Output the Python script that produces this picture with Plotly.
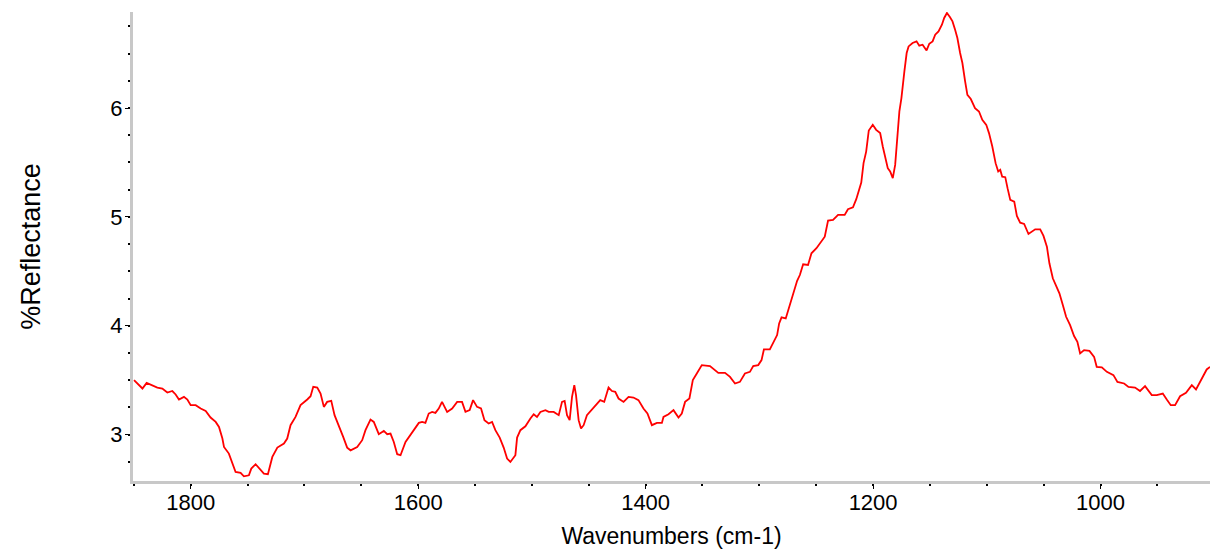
import plotly.graph_objects as go

wavenumber = [
    1849.8, 1842.4, 1838.7, 1833.6, 1829.3, 1824.9, 1820.5, 1816.1, 1813.2, 1810.3,
    1805.9, 1802.9, 1800.0, 1795.6, 1791.2, 1786.8, 1782.5, 1778.0, 1775.1, 1772.1,
    1770.7, 1766.4, 1763.4, 1760.5, 1756.1, 1753.2, 1748.8, 1746.7, 1742.9, 1740.0,
    1735.6, 1732.1, 1728.2, 1723.8, 1718.0, 1715.1, 1712.2, 1707.8, 1703.4, 1697.5,
    1694.6, 1692.2, 1688.7, 1685.8, 1682.9, 1680.0, 1676.4, 1673.5, 1669.8, 1665.9,
    1662.4, 1659.4, 1653.6, 1649.2, 1646.3, 1641.9, 1639.0, 1634.6, 1630.2, 1627.2,
    1624.3, 1621.4, 1618.4, 1615.5, 1611.1, 1606.7, 1603.8, 1599.4, 1596.5, 1593.6,
    1590.7, 1587.7, 1584.8, 1581.9, 1579.0, 1574.5, 1570.1, 1565.7, 1561.4, 1558.4,
    1554.7, 1551.7, 1548.2, 1544.7, 1541.7, 1538.0, 1535.0, 1532.1, 1528.3, 1524.8,
    1521.8, 1518.9, 1514.5, 1513.0, 1510.1, 1505.7, 1501.3, 1498.4, 1495.5, 1492.5,
    1488.1, 1485.2, 1480.8, 1476.4, 1473.5, 1471.2, 1469.1, 1466.8, 1464.7, 1462.7,
    1461.2, 1458.9, 1456.8, 1454.5, 1451.6, 1447.2, 1443.4, 1439.9, 1436.4, 1432.6,
    1429.6, 1426.7, 1423.8, 1419.4, 1415.0, 1410.7, 1406.3, 1401.9, 1398.4, 1394.5,
    1390.1, 1385.7, 1384.3, 1379.9, 1375.5, 1371.1, 1368.2, 1365.3, 1361.5, 1358.5,
    1355.0, 1350.6, 1343.4, 1339.0, 1336.1, 1330.2, 1325.8, 1321.4, 1317.1, 1312.7,
    1308.3, 1305.4, 1301.0, 1298.1, 1296.0, 1290.8, 1287.9, 1284.4, 1282.6, 1280.5,
    1276.8, 1274.7, 1271.8, 1268.9, 1266.8, 1264.4, 1261.5, 1257.2, 1254.2, 1249.8,
    1245.4, 1242.5, 1239.6, 1235.2, 1230.8, 1225.0, 1222.1, 1217.7, 1214.8, 1212.5,
    1210.4, 1208.4, 1206.1, 1203.8, 1200.3, 1197.3, 1193.8, 1191.5, 1189.2, 1187.1,
    1185.0, 1182.7, 1180.6, 1178.4, 1176.9, 1175.1, 1174.0, 1172.5, 1170.5, 1168.8,
    1165.3, 1161.8, 1159.4, 1156.5, 1153.0, 1150.6, 1147.7, 1145.4, 1142.5, 1139.5,
    1137.5, 1135.1, 1132.5, 1130.2, 1127.9, 1125.9, 1123.5, 1121.5, 1119.1, 1117.1,
    1114.1, 1110.4, 1106.9, 1104.0, 1100.5, 1098.1, 1095.2, 1092.3, 1090.0, 1088.2,
    1086.5, 1083.8, 1081.8, 1079.4, 1075.9, 1073.6, 1070.7, 1067.2, 1063.4, 1057.5,
    1053.1, 1050.2, 1047.2, 1045.0, 1042.0, 1039.1, 1036.2, 1033.2, 1030.3, 1026.8,
    1023.3, 1020.4, 1018.0, 1014.5, 1009.8, 1005.7, 1003.4, 998.9, 994.5, 988.7,
    985.2, 979.3, 975.5, 969.7, 965.3, 960.9, 955.0, 950.6, 945.3, 941.8,
    938.3, 934.5, 930.1, 924.9, 919.8, 916.1, 911.1, 906.7, 903.8,
]

reflectance = [
    3.500, 3.423, 3.475, 3.454, 3.432, 3.423, 3.386, 3.400, 3.368, 3.322,
    3.346, 3.322, 3.270, 3.270, 3.239, 3.217, 3.156, 3.116, 3.070, 2.963,
    2.886, 2.825, 2.748, 2.656, 2.647, 2.616, 2.625, 2.687, 2.727, 2.696,
    2.641, 2.635, 2.794, 2.880, 2.917, 2.963, 3.086, 3.162, 3.270, 3.322,
    3.352, 3.438, 3.432, 3.377, 3.254, 3.300, 3.309, 3.178, 3.086, 2.978,
    2.880, 2.855, 2.886, 2.948, 3.040, 3.138, 3.116, 3.003, 3.033, 3.003,
    3.009, 2.932, 2.819, 2.810, 2.932, 2.994, 3.046, 3.107, 3.116, 3.107,
    3.193, 3.208, 3.199, 3.239, 3.300, 3.208, 3.239, 3.300, 3.300, 3.208,
    3.224, 3.316, 3.254, 3.239, 3.132, 3.101, 3.116, 3.040, 2.972, 2.880,
    2.779, 2.748, 2.810, 2.972, 3.040, 3.076, 3.147, 3.187, 3.162, 3.208,
    3.224, 3.208, 3.208, 3.178, 3.300, 3.309, 3.178, 3.132, 3.346, 3.454,
    3.362, 3.132, 3.055, 3.086, 3.178, 3.230, 3.270, 3.316, 3.300, 3.432,
    3.400, 3.392, 3.331, 3.300, 3.346, 3.340, 3.316, 3.239, 3.193, 3.086,
    3.107, 3.107, 3.162, 3.187, 3.224, 3.156, 3.193, 3.300, 3.331, 3.500,
    3.561, 3.638, 3.629, 3.592, 3.567, 3.567, 3.530, 3.469, 3.484, 3.561,
    3.576, 3.629, 3.638, 3.684, 3.782, 3.782, 3.837, 3.914, 4.021, 4.077,
    4.067, 4.144, 4.236, 4.353, 4.413, 4.466, 4.564, 4.558, 4.666, 4.712,
    4.772, 4.818, 4.966, 4.972, 5.018, 5.018, 5.070, 5.089, 5.163, 5.248,
    5.315, 5.494, 5.600, 5.794, 5.846, 5.800, 5.770, 5.647, 5.540, 5.448,
    5.417, 5.356, 5.478, 5.739, 5.969, 6.092, 6.214, 6.337, 6.506, 6.567,
    6.598, 6.613, 6.573, 6.582, 6.530, 6.591, 6.613, 6.674, 6.705, 6.766,
    6.828, 6.874, 6.837, 6.797, 6.720, 6.644, 6.506, 6.414, 6.245, 6.122,
    6.083, 6.000, 5.969, 5.892, 5.846, 5.770, 5.647, 5.494, 5.417, 5.432,
    5.370, 5.365, 5.264, 5.156, 5.140, 5.009, 4.947, 4.935, 4.843, 4.886,
    4.886, 4.825, 4.726, 4.574, 4.436, 4.365, 4.298, 4.190, 4.082, 4.006,
    3.905, 3.852, 3.745, 3.776, 3.769, 3.714, 3.622, 3.617, 3.576, 3.546,
    3.484, 3.469, 3.438, 3.432, 3.400, 3.444, 3.362, 3.362, 3.377, 3.322,
    3.270, 3.270, 3.352, 3.383, 3.454, 3.414, 3.515, 3.598, 3.622,
]

x_tick_values = [1800, 1600, 1400, 1200, 1000]
x_tick_labels = ["1800", "1600", "1400", "1200", "1000"]
y_tick_values = [3, 4, 5, 6]
y_tick_labels = ["3", "4", "5", "6"]

FONT = "Liberation Sans, Arial, sans-serif"

fig = go.Figure()
fig.add_trace(go.Scatter(
    x=wavenumber, y=reflectance, mode="lines",
    line=dict(color="#ff0000", width=1.8),
    showlegend=False, hoverinfo="x+y",
))

fig.update_layout(
    width=1210, height=551,
    margin=dict(l=133, r=0, t=12, b=70),
    paper_bgcolor="white", plot_bgcolor="white",
    font=dict(family=FONT, size=22, color="#000000"),
)
fig.update_xaxes(
    range=[1850.7, 903.8], automargin=False,
    tickmode="array", tickvals=x_tick_values, ticktext=x_tick_labels,
    showgrid=False, zeroline=False,
    showline=True, linecolor="#c8c8c8", linewidth=3,
    ticks="outside", ticklen=5, tickwidth=1, tickcolor="#000000",
    minor=dict(ticks="outside", dtick=50, tick0=1000, ticklen=2, tickwidth=2, tickcolor="#000000", showgrid=False),
    tickfont=dict(size=22), ticklabelstandoff=-5,
    title=dict(text="Wavenumbers (cm-1)", font=dict(size=23), standoff=14),
)
fig.update_yaxes(
    range=[2.573, 6.883], automargin=False,
    tickmode="array", tickvals=y_tick_values, ticktext=y_tick_labels,
    showgrid=False, zeroline=False,
    showline=True, linecolor="#c8c8c8", linewidth=3,
    ticks="outside", ticklen=5, tickwidth=1, tickcolor="#000000",
    minor=dict(ticks="outside", dtick=0.25, tick0=3, ticklen=2, tickwidth=2, tickcolor="#000000", showgrid=False),
    tickfont=dict(size=22), ticklabelstandoff=-2,
    title=dict(text="%Reflectance", font=dict(size=27), standoff=62),
)

fig.write_html(
    "out.html",
    config={"displayModeBar": False},
    post_script="document.body.style.margin='0';document.body.style.overflow='hidden';",
)
